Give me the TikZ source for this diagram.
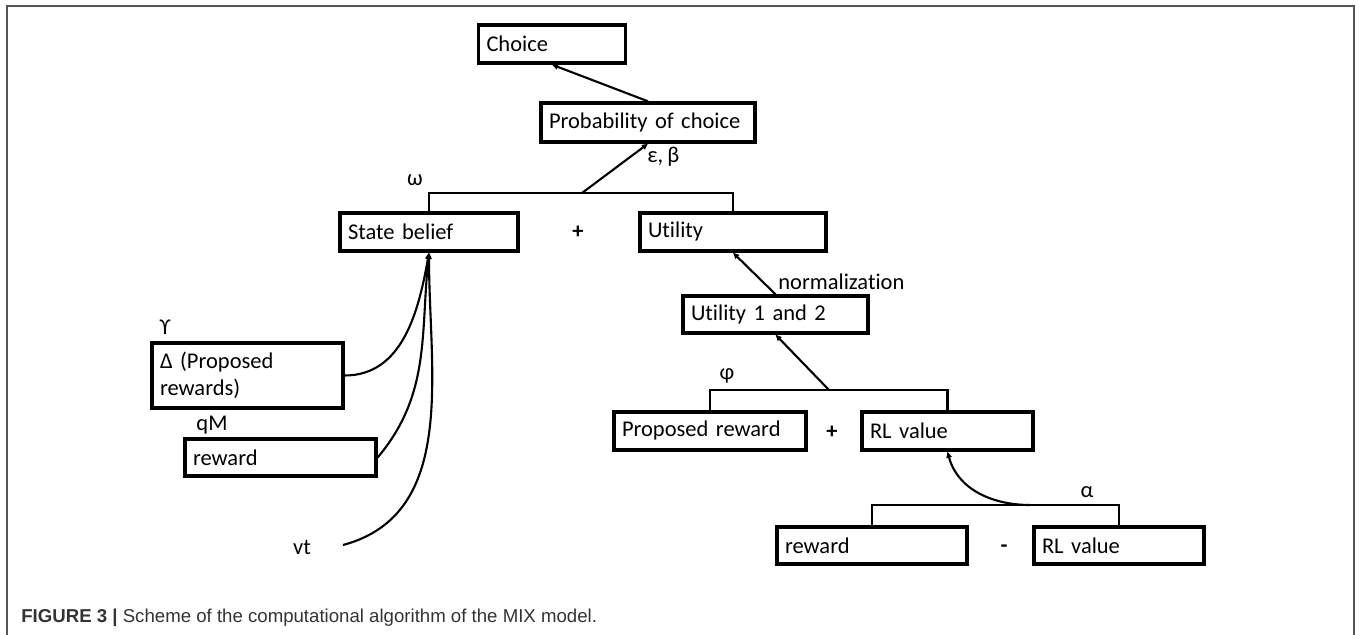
\documentclass[tikz,border=0pt]{standalone}
\usepackage{fontspec}
\setmainfont{Carlito}[Ligatures=NoCommon, WordSpace=0.8]
\newfontfamily\capfont{Liberation Sans}
\usepackage{tikz}
\usetikzlibrary{arrows.meta, positioning}
\definecolor{capgray}{HTML}{333333}
\definecolor{framegray}{HTML}{555555}
\tikzset{blk/.style={draw, line width=1.9pt, inner xsep=0.16cm, inner ysep=0pt, align=left, font=\fontsize{12.8}{15.3}\selectfont},
         lbl/.style={inner sep=0pt, font=\fontsize{12.8}{15}\selectfont},
         op/.style={inner sep=0pt, font=\fontsize{12.8}{15}\selectfont\bfseries},
         brk/.style={line width=1.2pt},
         arr/.style={line width=1.2pt, -{Triangle[length=3.5pt,width=3pt]}}}

\begin{document}
\begin{tikzpicture}[x=2cm,y=2cm]
                 \useasboundingbox (0,0) rectangle (13.59,6.35);
                 \draw[framegray, line width=1.1pt] (0.07,0) |- (13.54,6.29) -- (13.54,0);
                 % upper part
                 \node[blk, text width=2.62cm, minimum height=0.76cm] (choice) at (5.52,5.91) {Choice};
                 \node[blk, text width=3.96cm, minimum height=0.78cm] (prob) at (6.48,5.125) {Probability of choice};
                 \node[blk, text width=3.24cm, minimum height=0.76cm] (belief) at (4.29,4.03) {State belief};
                 \node[blk, text width=3.40cm, minimum height=0.76cm] (util) at (7.33,4.03) {Utility};
                 \node[op] (plusa) at (5.78,4.03) {+};
                 \node[blk, text width=3.38cm, minimum height=0.74cm] (utilab) at (7.755,3.205) {Utility 1 and 2};
                 \node[lbl, anchor=west] (norm) at (7.78,3.53) {normalization};
                 \node[lbl, anchor=west] (epsbeta) at (6.47,4.78) {ε, β};
                 \node[lbl] (omega) at (4.15,4.55) {ω};
                 \coordinate (wsplit) at (5.82,4.42);
                 \draw[brk] (belief.north) |- (wsplit) -| (util.north);
                 \draw[arr] (wsplit) -- (prob.south);
                 \draw[arr] (prob.north) -- (choice.south);
                 \draw[arr] (utilab.north) -- (util.south);
                 % right part
                 \node[blk, text width=3.52cm, minimum height=0.76cm] (propr) at (7.10,2.04) {Proposed reward};
                 \node[op] (plusb) at (8.32,2.03) {+};
                 \node[blk, text width=3.10cm, minimum height=0.76cm] (rlv) at (9.475,2.04) {RL value};
                 \node[lbl] (phi) at (7.27,2.59) {φ};
                 \coordinate (psplit) at (8.29,2.45);
                 \draw[brk] (propr.north) |- (psplit) -| (rlv.north);
                 \draw[arr] (psplit) -- (utilab.south);
                 \node[blk, text width=3.48cm, minimum height=0.74cm] (rewb) at (8.72,0.895) {reward};
                 \node[op] (minus) at (10.04,0.86) {-};
                 \node[blk, text width=3.08cm, minimum height=0.74cm] (rlvb) at (11.19,0.895) {RL value};
                 \node[lbl] (alpha) at (10.87,1.43) {α};
                 \coordinate (asplit) at (10.30,1.30);
                 \draw[brk] (rewb.north) |- (asplit) -| (rlvb.north);
                 \draw[arr] (asplit) to[out=180, in=-75] (rlv.south);
                 % left part
                 \node[blk, text width=3.50cm, minimum height=1.30cm] (delta) at (2.475,2.595) {Δ (Proposed\\rewards)};
                 \node[lbl] (upsilon) at (1.65,3.08) {ϒ};
                 \node[blk, text width=3.50cm, minimum height=0.74cm] (rewa) at (2.805,1.775) {reward};
                 \node[lbl] (qm) at (2.12,2.10) {qM};
                 \node[lbl] (vt) at (3.02,0.88) {vt};
                 \coordinate (vtend) at (3.43,0.90);
                 \draw[arr] (delta.east) to[out=0, in=-100] (belief.south);
                 \draw[arr] (rewa.east) to[out=50, in=-96] (belief.south);
                 \draw[arr] (vtend) to[out=15, in=-90] (belief.south);
                 % caption
                 \node[anchor=west, inner sep=0pt, text=capgray, font=\capfont\fontsize{10.6}{12}\selectfont] (caption) at (0.21,0.17) {\textbf{FIGURE 3 |} Scheme of the computational algorithm of the MIX model.};
\end{tikzpicture}
\end{document}
